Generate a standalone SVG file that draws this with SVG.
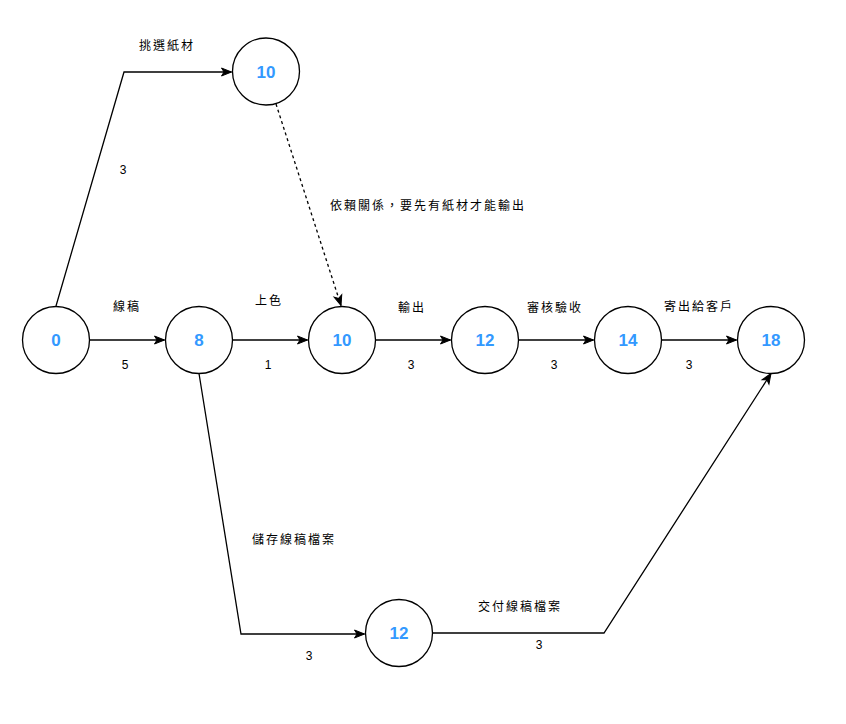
<svg xmlns="http://www.w3.org/2000/svg" width="846" height="724" viewBox="0 0 846 724">
<style>
.n{fill:#fff;stroke:#000;stroke-width:1.3}
.nt{font-family:"Liberation Sans","Noto Sans CJK TC",sans-serif;font-size:17px;font-weight:bold;fill:#3399FF;text-anchor:middle}
.l{font-family:"Liberation Sans","Noto Sans CJK TC",sans-serif;font-size:12px;fill:#000;text-anchor:middle}
.c{letter-spacing:2px}
.e{fill:none;stroke:#000;stroke-width:1.3}
.d{stroke-dasharray:3 3}
</style>
<defs>
<marker id="a" markerUnits="userSpaceOnUse" markerWidth="12" markerHeight="10" refX="10" refY="4" orient="auto" overflow="visible">
<path d="M0,0 L10,4 L0,8 L2.5,4 Z" fill="#000" stroke="#000" stroke-width="1"/>
</marker>
</defs>
<rect width="846" height="724" fill="#fff"/>
<g id="connectors">
<path class="e" d="M56,306 L124,72 L231.5,72" marker-end="url(#a)"/>
<path class="e d" d="M276,104 L341,305.5" marker-end="url(#a)"/>
<path class="e" d="M89.5,340 L164.5,340" marker-end="url(#a)"/>
<path class="e" d="M232.5,340 L307.5,340" marker-end="url(#a)"/>
<path class="e" d="M375.5,340 L450.5,340" marker-end="url(#a)"/>
<path class="e" d="M518.5,340 L593.5,340" marker-end="url(#a)"/>
<path class="e" d="M661.5,340 L736.5,340" marker-end="url(#a)"/>
<path class="e" d="M199,373.5 L241,634 L364.5,634" marker-end="url(#a)"/>
<path class="e" d="M432.5,633 L604,633 L771,373.5" marker-end="url(#a)"/>
</g>
<g id="labels">
<text class="l c" x="167" y="50">挑選紙材</text>
<text class="l" x="123" y="174">3</text>
<text class="l c" x="428" y="210">依賴關係，要先有紙材才能輸出</text>
<text class="l c" x="127" y="311">線稿</text>
<text class="l" x="125" y="369">5</text>
<text class="l c" x="269" y="305">上色</text>
<text class="l" x="268" y="369">1</text>
<text class="l c" x="412" y="312">輸出</text>
<text class="l" x="411" y="369">3</text>
<text class="l c" x="555" y="312">審核驗收</text>
<text class="l" x="554" y="369">3</text>
<text class="l c" x="699" y="311">寄出給客戶</text>
<text class="l" x="689" y="369">3</text>
<text class="l c" x="294" y="544">儲存線稿檔案</text>
<text class="l" x="309" y="660">3</text>
<text class="l c" x="520" y="611">交付線稿檔案</text>
<text class="l" x="539" y="649">3</text>
</g>
<g id="n_top10"><circle class="n" cx="266" cy="71.5" r="33.5"/><text class="nt" x="266" y="77.5">10</text></g>
<g id="n0"><circle class="n" cx="56" cy="340" r="33.5"/><text class="nt" x="56" y="346">0</text></g>
<g id="n8"><circle class="n" cx="199" cy="340" r="33.5"/><text class="nt" x="199" y="346">8</text></g>
<g id="n10"><circle class="n" cx="342" cy="340" r="33.5"/><text class="nt" x="342" y="346">10</text></g>
<g id="n12"><circle class="n" cx="485" cy="340" r="33.5"/><text class="nt" x="485" y="346">12</text></g>
<g id="n14"><circle class="n" cx="628" cy="340" r="33.5"/><text class="nt" x="628" y="346">14</text></g>
<g id="n18"><circle class="n" cx="771" cy="340" r="33.5"/><text class="nt" x="771" y="346">18</text></g>
<g id="n_bot12"><circle class="n" cx="399" cy="633" r="33.5"/><text class="nt" x="399" y="639">12</text></g>
</svg>
